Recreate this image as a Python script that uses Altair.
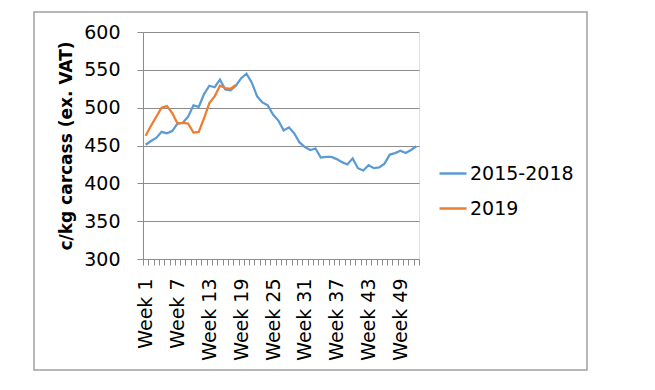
import altair as alt
import pandas as pd

weeks = [f"Week {i}" for i in range(1, 53)]
series_names = ["2015-2018", "2019"]
avg_2015_2018 = [451, 456, 460, 468, 466, 469, 479, 480, 488, 503,
                 501, 518, 529, 527, 537, 524, 523, 529, 539, 545,
                 533, 515, 507, 503, 491, 483, 470, 474, 466, 454,
                 448, 444, 446, 434, 435, 435, 432, 428, 425, 433,
                 420, 417, 424, 420, 421, 426, 438, 440, 443, 440,
                 444, 449]
val_2019 = [463, 476, 488, 500, 502, 493, 479, 480, 479, 467,
            468, 486, 506, 515, 529, 526, 525, 530]
y_ticks = [300, 350, 400, 450, 500, 550, 600]
label_weeks = [1, 7, 13, 19, 25, 31, 37, 43, 49]
colors = ["#5B9BD5", "#ED7D31"]

rows = []
for w, v in zip(weeks, avg_2015_2018):
    rows.append({"week": w, "value": v, "series": series_names[0]})
for w, v in zip(weeks, val_2019):
    rows.append({"week": w, "value": v, "series": series_names[1]})
df = pd.DataFrame(rows)

FONT = "DejaVu Sans"
GRID = "#8c8c8c"

label_expr = "indexof([" + ",".join(f"'Week {i}'" for i in label_weeks) + "], datum.value) >= 0 ? datum.value : ''"

lines = alt.Chart(df).mark_line(strokeWidth=2.25).encode(
    x=alt.X("week:N", sort=weeks, bandPosition=0.5,
            scale=alt.Scale(type="band", paddingInner=0, paddingOuter=0),
            axis=alt.Axis(title=None, labelExpr=label_expr, labelAngle=270,
                          labelAlign="right", labelBaseline="middle",
                          labelOverlap=False, labelPadding=13, tickSize=6,
                          tickBand="extent", tickColor=GRID, domainColor=GRID,
                          labelFont=FONT, labelFontSize=19, labelColor="black",
                          grid=False)),
    y=alt.Y("value:Q", scale=alt.Scale(domain=[300, 600], nice=False, zero=False),
            axis=alt.Axis(values=y_ticks, title="c/kg carcass (ex. VAT)",
                          titleFont=FONT, titleFontSize=17, titleFontWeight="bold",
                          titleColor="black", titleAngle=270, titleX=-77, titleY=113.5,
                          titleAlign="center", titleBaseline="middle",
                          labelFont=FONT, labelFontSize=19, labelColor="black",
                          labelPadding=17, tickSize=6, tickColor=GRID,
                          domainColor=GRID, gridColor=GRID, gridWidth=1)),
    color=alt.Color("series:N",
                    scale=alt.Scale(domain=series_names, range=colors),
                    legend=alt.Legend(title=None, orient="none", legendX=295, legendY=126.5,
                                      symbolType="stroke", symbolSize=729,
                                      symbolStrokeWidth=2.5, labelFont=FONT,
                                      labelFontSize=19, labelColor="black",
                                      rowPadding=10, padding=0, labelOffset=2)),
)

frame = alt.Chart(pd.DataFrame({"a": [0]})).mark_rect(
    fill="transparent", stroke="#a0a0a0", strokeWidth=1.5, clip=False
).encode(
    x=alt.value(-109), x2=alt.value(444), y=alt.value(-20), y2=alt.value(338)
)

chart = alt.layer(frame, lines).properties(
    width=276, height=227,
    autosize=alt.AutoSizeParams(type="none"),
    padding={"left": 135, "top": 24, "right": 220, "bottom": 115},
).configure_view(stroke=None).configure(background="white")

chart.save("out.html", embed_options={"renderer": "svg", "actions": False})
